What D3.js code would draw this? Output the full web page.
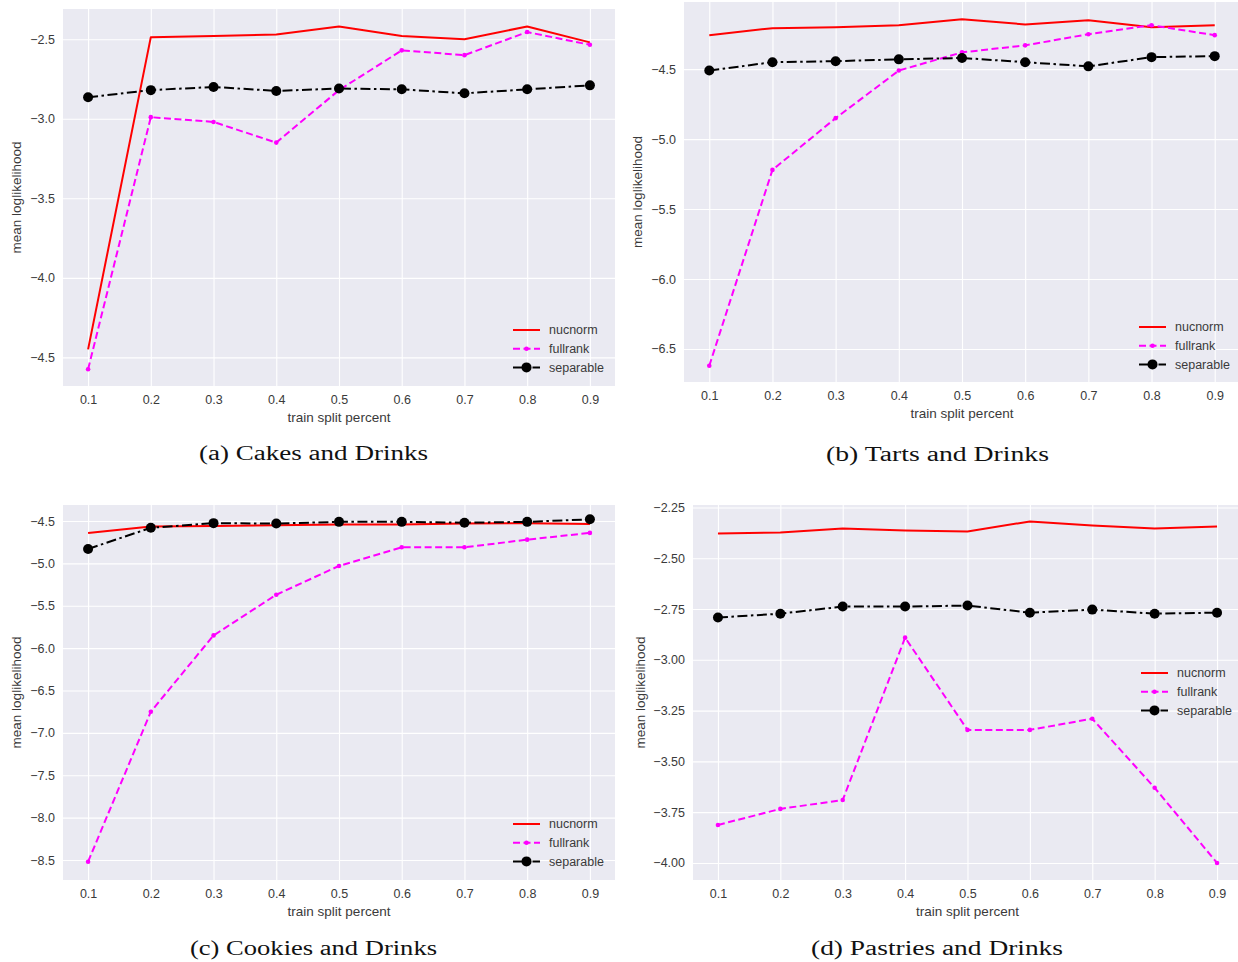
<!DOCTYPE html>
<html>
<head>
<meta charset="utf-8">
<script src="https://cdn.jsdelivr.net/npm/d3@7"></script>
<style>
  html, body { margin: 0; padding: 0; background: #ffffff; }
  svg { display: block; }
</style>
</head>
<body>
<svg id="chart" width="1238" height="962"></svg>
<script>
// ---------------- DATA ----------------
const trainSplit = [0.1, 0.2, 0.3, 0.4, 0.5, 0.6, 0.7, 0.8, 0.9];
const xTicks = [0.1, 0.2, 0.3, 0.4, 0.5, 0.6, 0.7, 0.8, 0.9];
const seriesNames = ["nucnorm", "fullrank", "separable"];

// (a) Cakes and Drinks
const cakesNucnorm   = [-4.45, -2.487, -2.48, -2.47, -2.42, -2.48, -2.50, -2.42, -2.52];
const cakesFullrank  = [-4.575, -2.99, -3.02, -3.15, -2.82, -2.57, -2.60, -2.455, -2.535];
const cakesSeparable = [-2.865, -2.82, -2.80, -2.825, -2.81, -2.815, -2.84, -2.815, -2.79];
const cakesYTicks    = [-4.5, -4.0, -3.5, -3.0, -2.5];

// (b) Tarts and Drinks
const tartsNucnorm   = [-4.257, -4.207, -4.20, -4.186, -4.143, -4.18, -4.15, -4.20, -4.186];
const tartsFullrank  = [-6.62, -5.22, -4.85, -4.51, -4.38, -4.33, -4.25, -4.186, -4.257];
const tartsSeparable = [-4.51, -4.45, -4.443, -4.43, -4.42, -4.45, -4.48, -4.414, -4.407];
const tartsYTicks    = [-6.5, -6.0, -5.5, -5.0, -4.5];

// (c) Cookies and Drinks
const cookiesNucnorm   = [-4.64, -4.565, -4.56, -4.55, -4.54, -4.54, -4.53, -4.525, -4.535];
const cookiesFullrank  = [-8.52, -6.75, -5.85, -5.37, -5.03, -4.81, -4.81, -4.72, -4.64];
const cookiesSeparable = [-4.83, -4.58, -4.525, -4.53, -4.51, -4.51, -4.52, -4.51, -4.48];
const cookiesYTicks    = [-8.5, -8.0, -7.5, -7.0, -6.5, -6.0, -5.5, -5.0, -4.5];

// (d) Pastries and Drinks
const pastriesNucnorm   = [-2.378, -2.373, -2.354, -2.363, -2.368, -2.319, -2.339, -2.354, -2.344];
const pastriesFullrank  = [-3.813, -3.734, -3.69, -2.891, -3.345, -3.345, -3.29, -3.63, -4.0];
const pastriesSeparable = [-2.792, -2.773, -2.738, -2.738, -2.733, -2.768, -2.753, -2.773, -2.768];
const pastriesYTicks    = [-4.0, -3.75, -3.5, -3.25, -3.0, -2.75, -2.5, -2.25];

const captions = ["(a) Cakes and Drinks", "(b) Tarts and Drinks", "(c) Cookies and Drinks", "(d) Pastries and Drinks"];

// ---------------- LAYOUT / STYLE ----------------
const panels = [
  { box: {l: 63, r: 615, t: 9, b: 386}, yDomain: [-4.68, -2.31], yTicks: cakesYTicks, fmt: ".1f",
    data: [cakesNucnorm, cakesFullrank, cakesSeparable], legend: {x: 513, y: 330}, ylab: 42,
    caption: captions[0], cap: {x: 313.5, y: 460, w: 229} },
  { box: {l: 684, r: 1240, t: 2, b: 382}, yDomain: [-6.736, -4.02], yTicks: tartsYTicks, fmt: ".1f",
    data: [tartsNucnorm, tartsFullrank, tartsSeparable], legend: {x: 1139, y: 327}, ylab: 42,
    caption: captions[1], cap: {x: 937.5, y: 461, w: 223} },
  { box: {l: 63, r: 615, t: 505, b: 880}, yDomain: [-8.736, -4.311], yTicks: cookiesYTicks, fmt: ".1f",
    data: [cookiesNucnorm, cookiesFullrank, cookiesSeparable], legend: {x: 513, y: 824}, ylab: 42,
    caption: captions[2], cap: {x: 313.5, y: 955, w: 247} },
  { box: {l: 693, r: 1242, t: 505, b: 880}, yDomain: [-4.084, -2.238], yTicks: pastriesYTicks, fmt: ".2f",
    data: [pastriesNucnorm, pastriesFullrank, pastriesSeparable], legend: {x: 1141, y: 673}, ylab: 48,
    caption: captions[3], cap: {x: 937, y: 955, w: 252} }
];

const styles = [
  { color: "#ff0000", width: 2, dash: null, r: 0 },
  { color: "#ff00ff", width: 2, dash: "7,3.5", r: 2.3 },
  { color: "#000000", width: 2, dash: "10,3.5,2.5,3.5", r: 5 }
];

const textColor = "#3a3a3a";
const sansFont = "'Liberation Sans', Arial, sans-serif";
const serifFont = "'Liberation Serif', 'DejaVu Serif', serif";
const minus = s => s.replace("-", "\u2212");

const svg = d3.select("#chart");

panels.forEach((p, pi) => {
  const g = svg.append("g");
  const x = d3.scaleLinear().domain([0.06, 0.94]).range([p.box.l, p.box.r]);
  const y = d3.scaleLinear().domain(p.yDomain).range([p.box.b, p.box.t]);

  const clipId = "clip" + pi;
  g.append("clipPath").attr("id", clipId)
    .append("rect").attr("x", p.box.l).attr("y", p.box.t)
    .attr("width", p.box.r - p.box.l).attr("height", p.box.b - p.box.t);

  // background
  g.append("rect").attr("x", p.box.l).attr("y", p.box.t)
    .attr("width", p.box.r - p.box.l).attr("height", p.box.b - p.box.t)
    .attr("fill", "#eaeaf2");

  // x axis (ticks + grid)
  const xAxis = d3.axisBottom(x).tickValues(xTicks).tickFormat(d3.format(".1f"))
    .tickSize(-(p.box.b - p.box.t)).tickPadding(9);
  const gx = g.append("g").attr("transform", `translate(0,${p.box.b})`).call(xAxis);
  gx.select(".domain").remove();
  gx.selectAll(".tick line").attr("stroke", "#ffffff").attr("stroke-width", 1.1);
  gx.selectAll(".tick text").attr("fill", textColor).attr("font-family", sansFont)
    .attr("font-size", 12.5);

  // y axis
  const yAxis = d3.axisLeft(y).tickValues(p.yTicks)
    .tickFormat(d => minus(d3.format(p.fmt)(d)))
    .tickSize(-(p.box.r - p.box.l)).tickPadding(8);
  const gy = g.append("g").attr("transform", `translate(${p.box.l},0)`).call(yAxis);
  gy.select(".domain").remove();
  gy.selectAll(".tick line").attr("stroke", "#ffffff").attr("stroke-width", 1.1);
  gy.selectAll(".tick text").attr("fill", textColor).attr("font-family", sansFont)
    .attr("font-size", 12.5);

  // axis labels
  g.append("text")
    .attr("x", (p.box.l + p.box.r) / 2)
    .attr("y", p.box.b + 36)
    .attr("text-anchor", "middle").attr("fill", textColor)
    .attr("font-family", sansFont).attr("font-size", 13.5)
    .text("train split percent");
  g.append("text")
    .attr("transform", `translate(${p.box.l - p.ylab},${(p.box.t + p.box.b) / 2}) rotate(-90)`)
    .attr("text-anchor", "middle").attr("fill", textColor)
    .attr("font-family", sansFont).attr("font-size", 13.5)
    .text("mean loglikelihood");

  // series
  const plot = g.append("g").attr("clip-path", `url(#${clipId})`);
  p.data.forEach((vals, si) => {
    const st = styles[si];
    const pts = trainSplit.map((t, i) => [t, vals[i]]);
    const line = d3.line().x(d => x(d[0])).y(d => y(d[1]));
    const path = plot.append("path").datum(pts)
      .attr("d", line).attr("fill", "none")
      .attr("stroke", st.color).attr("stroke-width", st.width)
      .attr("stroke-linejoin", "round");
    if (st.dash) path.attr("stroke-dasharray", st.dash);
    if (st.r > 0) {
      plot.selectAll(null).data(pts).enter().append("circle")
        .attr("cx", d => x(d[0])).attr("cy", d => y(d[1]))
        .attr("r", st.r).attr("fill", st.color);
    }
  });

  // legend
  const lg = g.append("g");
  seriesNames.forEach((name, si) => {
    const st = styles[si];
    const ly = p.legend.y + si * 18.7;
    const ln = lg.append("line").attr("x1", p.legend.x).attr("x2", p.legend.x + 27)
      .attr("y1", ly).attr("y2", ly)
      .attr("stroke", st.color).attr("stroke-width", st.width);
    if (st.dash) ln.attr("stroke-dasharray", si === 1 ? "7,3.5" : "10,3.5,2.5,3.5");
    if (st.r > 0) {
      lg.append("circle").attr("cx", p.legend.x + 13.5).attr("cy", ly)
        .attr("r", st.r).attr("fill", st.color);
    }
    lg.append("text").attr("x", p.legend.x + 36).attr("y", ly + 4.3)
      .attr("fill", textColor).attr("font-family", sansFont).attr("font-size", 12.5)
      .text(name);
  });

  // caption
  svg.append("text")
    .attr("x", p.cap.x).attr("y", p.cap.y)
    .attr("text-anchor", "middle").attr("fill", "#111")
    .attr("font-family", serifFont).attr("font-size", 20)
    .attr("textLength", p.cap.w).attr("lengthAdjust", "spacingAndGlyphs")
    .text(p.caption);
});
</script>
</body>
</html>
